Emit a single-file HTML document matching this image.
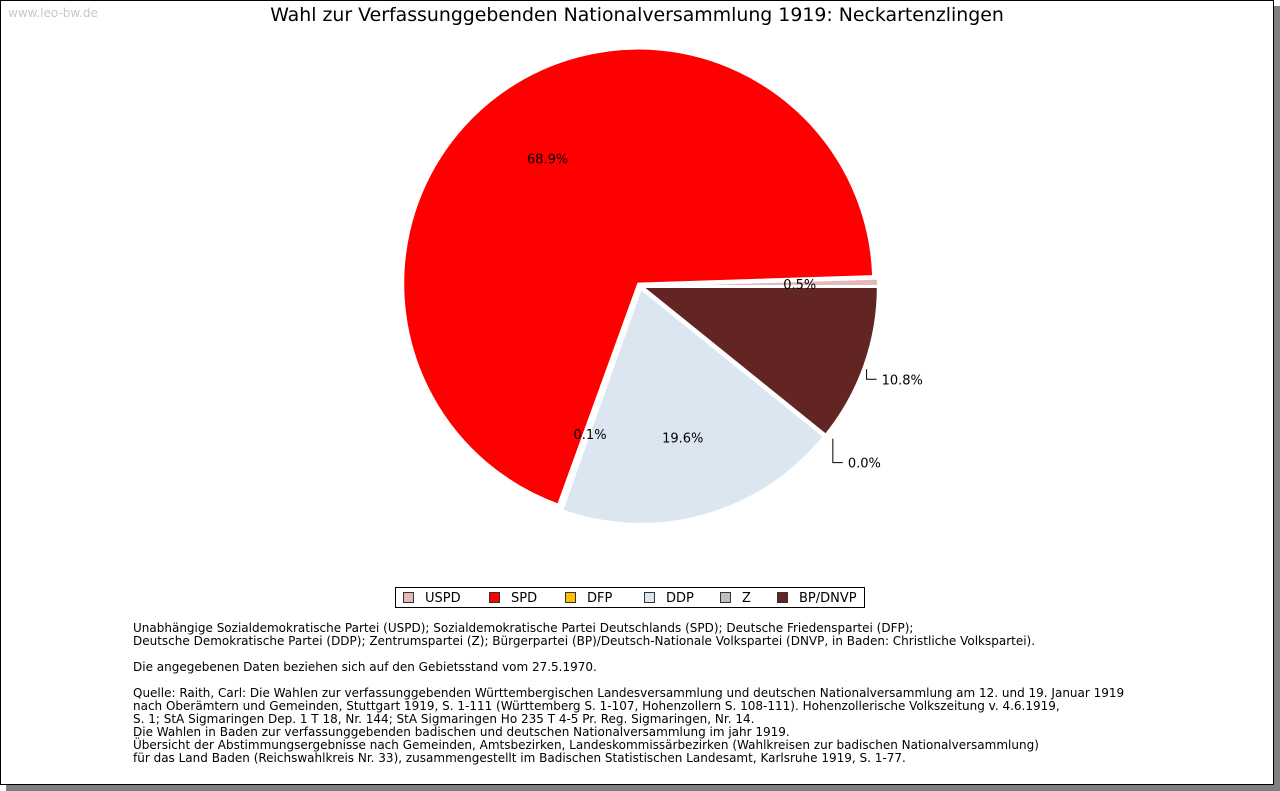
<!DOCTYPE html>
<html><head><meta charset="utf-8">
<style>
html,body{margin:0;padding:0;background:#fff;}
body{width:1280px;height:791px;position:relative;overflow:hidden;font-family:"DejaVu Sans","Liberation Sans",sans-serif;}
#frame{position:absolute;left:0;top:0;width:1272px;height:783px;border:1px solid #000;background:#fff;box-shadow:6px 6px 0 #808080;}
#notes{position:absolute;left:133px;top:622px;font-size:12px;line-height:13px;color:#000;white-space:pre;}
</style></head>
<body>
<div id="frame"></div>
<svg width="1280" height="791" style="position:absolute;left:0;top:0">
<text x="8" y="17" font-size="12" fill="#c8c8c8" font-family="DejaVu Sans,sans-serif">www.leo-bw.de</text>
<text x="637" y="21" text-anchor="middle" font-size="18.9" font-family="DejaVu Sans,sans-serif">Wahl zur Verfassunggebenden Nationalversammlung 1919: Neckartenzlingen</text>
<g id="slices"></g>
<g id="labels" font-size="13" font-family="DejaVu Sans,sans-serif"></g>
<g id="legend" font-size="13" font-family="DejaVu Sans,sans-serif"></g>
</svg>
<div id="notes">Unabhängige Sozialdemokratische Partei (USPD); Sozialdemokratische Partei Deutschlands (SPD); Deutsche Friedenspartei (DFP);
Deutsche Demokratische Partei (DDP); Zentrumspartei (Z); Bürgerpartei (BP)/Deutsch-Nationale Volkspartei (DNVP, in Baden: Christliche Volkspartei).

Die angegebenen Daten beziehen sich auf den Gebietsstand vom 27.5.1970.

Quelle: Raith, Carl: Die Wahlen zur verfassunggebenden Württembergischen Landesversammlung und deutschen Nationalversammlung am 12. und 19. Januar 1919
nach Oberämtern und Gemeinden, Stuttgart 1919, S. 1-111 (Württemberg S. 1-107, Hohenzollern S. 108-111). Hohenzollerische Volkszeitung v. 4.6.1919,
S. 1; StA Sigmaringen Dep. 1 T 18, Nr. 144; StA Sigmaringen Ho 235 T 4-5 Pr. Reg. Sigmaringen, Nr. 14.
Die Wahlen in Baden zur verfassunggebenden badischen und deutschen Nationalversammlung im jahr 1919.
Übersicht der Abstimmungsergebnisse nach Gemeinden, Amtsbezirken, Landeskommissärbezirken (Wahlkreisen zur badischen Nationalversammlung)
für das Land Baden (Reichswahlkreis Nr. 33), zusammengestellt im Badischen Statistischen Landesamt, Karlsruhe 1919, S. 1-77.</div>
<script>
const categories = ["USPD","SPD","DFP","DDP","Z","BP/DNVP"];
const values = [0.5, 68.9, 0.1, 19.6, 0.0, 10.8];
const labels = ["0.5%","68.9%","0.1%","19.6%","0.0%","10.8%"];
const colors = ["#e6b8b7","#ff0000","#ffc000","#dce6f1","#bfbfbf","#632523"];
const NS="http://www.w3.org/2000/svg";
const cx=640, cy=286, R=235, explode=3;
const total=values.reduce((a,b)=>a+b,0);
const gS=document.getElementById('slices'), gL=document.getElementById('labels'), gG=document.getElementById('legend');
function mk(t,a,p){const e=document.createElementNS(NS,t);for(const k in a)e.setAttribute(k,a[k]);(p).appendChild(e);return e;}
let start=0;
values.forEach((v,i)=>{
  const sweep=v/total*2*Math.PI;
  const a0=-start, a1=-(start+sweep), mid=-(start+sweep/2);
  start+=sweep;
  const ox=cx+explode*Math.cos(mid), oy=cy+explode*Math.sin(mid);
  if(sweep>0.0001){
    const x0=ox+R*Math.cos(a0), y0=oy+R*Math.sin(a0), x1=ox+R*Math.cos(a1), y1=oy+R*Math.sin(a1);
    const large=sweep>Math.PI?1:0;
    const p=mk('path',{d:`M${ox},${oy} L${x0},${y0} A${R},${R} 0 ${large} 0 ${x1},${y1} Z`,fill:colors[i],stroke:'#fff','stroke-width':2},gS);
    
    
  }
  const outside=(i===4||i===5);
  let t;
  if(outside){
    const ex=cx+R*Math.cos(mid)+ (i===5?5:10), ey=cy+R*Math.sin(mid)+(i===5?5:5);
    const ly=ey+(i===5?10:24);
    const l=mk('polyline',{points:`${ex},${ey} ${ex},${ly} ${ex+10},${ly}`,fill:'none',stroke:'#000','stroke-width':1},gL);
    
    
    t=mk('text',{x:ex+15,y:ly+5},gL);
  } else {
    const rr=R*0.67;
    let lx=cx+rr*Math.cos(mid), ly=cy+rr*Math.sin(mid);
    if(i===0){lx=cx+R*0.68*Math.cos(mid);ly=cy-2;}
    if(i===2){lx=cx+R*0.68*Math.cos(mid)+4;}
    t=mk('text',{x:lx,y:ly+5,'text-anchor':'middle'},gL);
  }
  t.textContent=labels[i];
  
  
});
const box=mk('rect',{x:395.5,y:587.5,width:469,height:20,fill:'#fff',stroke:'#000','stroke-width':1},gG);


const lxs=[403,489,565,644,720,777];
categories.forEach((c,i)=>{
  const g=mk('g',{},gG);
  
  
  mk('rect',{x:lxs[i]+0.5,y:592.5,width:10,height:10,fill:colors[i],stroke:'#333','stroke-width':1},g);
  const t=mk('text',{x:lxs[i]+22,y:602},g);t.textContent=c;
});
</script>
</body></html>
